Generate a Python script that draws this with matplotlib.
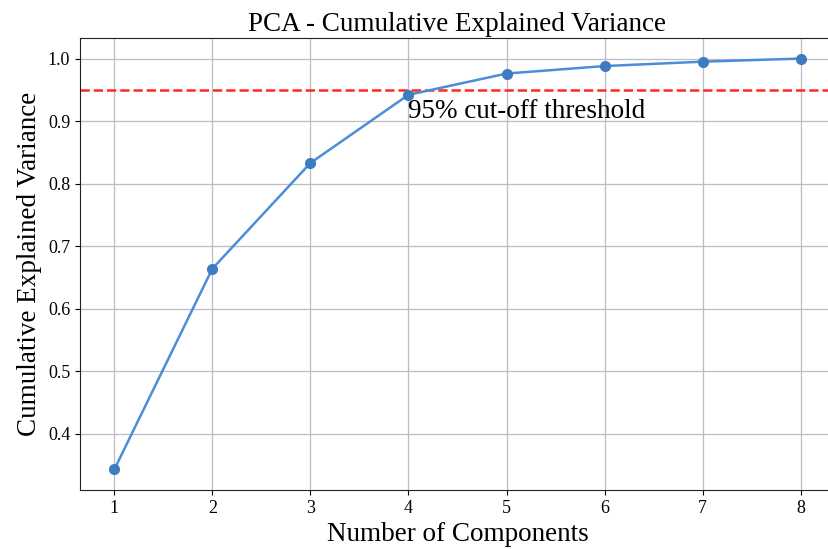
import matplotlib
matplotlib.use("Agg")
import matplotlib.pyplot as plt
import numpy as np

plt.rcParams['font.family'] = ['Liberation Serif', 'DejaVu Serif']

# cumulative explained variance per number of PCA components
n_components = [1, 2, 3, 4, 5, 6, 7, 8]
cum_variance = [0.343, 0.664, 0.833, 0.942, 0.976, 0.988, 0.995, 1.000]
threshold = 0.95

fig = plt.figure(figsize=(8.29, 5.49), dpi=100)
ax = fig.add_axes([80 / 829, 1 - 490 / 549, 755 / 829, 452 / 549])

ax.plot(n_components, cum_variance, color='#4a8ed8', linewidth=1.8, zorder=3)
ax.plot(n_components, cum_variance, 'o', color='#3d7cc3', markersize=7, zorder=4)
ax.axhline(threshold, color='#ff2a1a', linestyle='--', linewidth=1.8, zorder=2)
ax.text(4, 0.905, '95% cut-off threshold', fontsize=19.5, color='black')

ax.set_title('PCA - Cumulative Explained Variance', fontsize=19.5, pad=5)
ax.set_xlabel('Number of Components', fontsize=19.5)
ax.set_ylabel('Cumulative Explained Variance', fontsize=19.5)
ax.set_xticks(n_components)
ax.tick_params(labelsize=13)
ax.grid(True, color='#bcbcc4', linewidth=0.9)
for s in ax.spines.values():
    s.set_color('#222222')

fig.savefig('out.png', dpi=100)
